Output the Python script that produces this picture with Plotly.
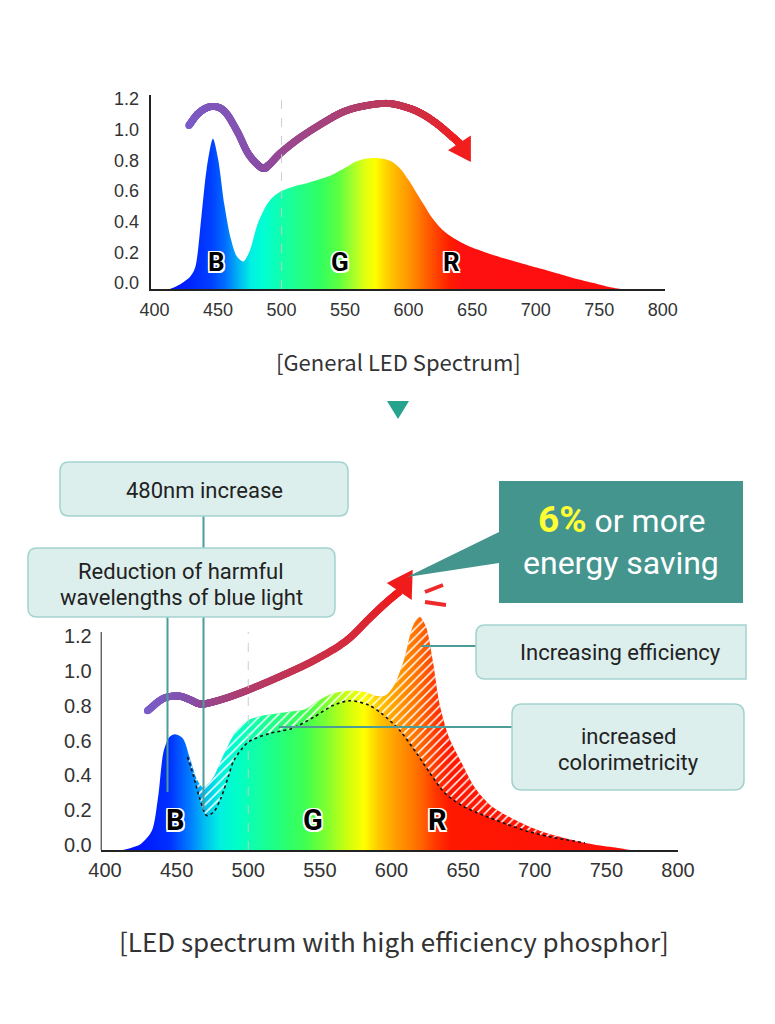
import numpy as np
import plotly.graph_objects as go

# The page body keeps its default 8px margin, so the figure is 16px smaller than the window
# and every reference pixel position is shifted by 8px.
W, H = 759, 1008
OFF = 8

# ---------------- data : general LED spectrum (top) ----------------
gen_nm = [412, 420, 428, 432, 437, 441, 446, 450, 455, 460, 465, 470, 475, 481, 487, 492, 498,
          505, 512, 520, 530, 540, 550, 558, 566, 573, 580, 587, 594, 600, 606, 612, 618, 625,
          632, 640, 650, 660, 675, 690, 705, 720, 735, 750, 760, 767]
gen_val = [0.0, 0.03, 0.08, 0.14, 0.48, 0.78, 0.98, 0.85, 0.55, 0.33, 0.21, 0.18, 0.25, 0.42,
           0.53, 0.59, 0.63, 0.655, 0.675, 0.69, 0.715, 0.745, 0.79, 0.83, 0.85, 0.855, 0.85,
           0.83, 0.78, 0.71, 0.63, 0.55, 0.47, 0.40, 0.35, 0.31, 0.27, 0.24, 0.20, 0.165, 0.13,
           0.095, 0.06, 0.03, 0.01, 0.0]

# arrow over the top chart
top_arrow_nm = [427, 435, 445, 455, 465, 474, 484.5, 490, 499.6, 515, 536, 550, 566, 584, 600, 611, 622, 632, 640]
top_arrow_val = [1.066, 1.15, 1.19, 1.16, 1.03, 0.88, 0.79, 0.81, 0.89, 0.99, 1.10, 1.16, 1.195, 1.21,
                 1.18, 1.14, 1.08, 1.01, 0.952]
top_head_nm = [631, 649, 649]
top_head_val = [0.904, 1.001, 0.828]

# ---------------- data : high efficiency phosphor spectrum (bottom) ----------------
he_nm = [412.5, 425, 432.7, 437, 441, 445, 449, 454.5, 459, 464, 468.5, 475, 484, 492, 500, 509,
         524.5, 540, 549, 559, 571, 580.6, 590, 596, 602, 608.6, 614.8, 619.5, 624, 628.8, 633.5,
         640, 649, 658, 668, 680, 696, 711, 727, 742, 758, 767]
he_val = [0.0, 0.035, 0.11, 0.30, 0.57, 0.65, 0.665, 0.64, 0.535, 0.41, 0.36, 0.41, 0.57, 0.69,
          0.746, 0.77, 0.79, 0.81, 0.86, 0.90, 0.915, 0.91, 0.885, 0.89, 0.95, 1.09, 1.285, 1.34,
          1.285, 1.09, 0.84, 0.65, 0.50, 0.36, 0.265, 0.20, 0.135, 0.09, 0.056, 0.03, 0.012, 0.0]

# previous (general) spectrum drawn dashed on the bottom chart
old_nm = [457.6, 462, 466, 471, 476, 481, 486, 490, 500, 515, 531, 546, 559, 571, 584, 593, 605.5,
          618, 627, 636.6, 649, 664.6, 680, 696, 711, 727, 735]
old_val = [0.535, 0.42, 0.30, 0.198, 0.22, 0.30, 0.42, 0.515, 0.62, 0.67, 0.70, 0.765, 0.83, 0.858,
           0.833, 0.785, 0.69, 0.55, 0.44, 0.333, 0.256, 0.198, 0.15, 0.105, 0.075, 0.052, 0.04]

bot_arrow_nm = [429.6, 440.5, 451, 459, 466, 473, 487, 503, 524.5, 546, 568, 585, 596, 605.4]
bot_arrow_val = [0.80, 0.87, 0.885, 0.865, 0.84, 0.846, 0.88, 0.93, 1.006, 1.09, 1.20, 1.335, 1.42, 1.485]
bot_head_nm = [596.7, 614.8, 614.1]
bot_head_val = [1.534, 1.61, 1.437]

# ---------------- axes / labels ----------------
x_ticks = [400, 450, 500, 550, 600, 650, 700, 750, 800]
y_ticks = [0.0, 0.2, 0.4, 0.6, 0.8, 1.0, 1.2]
y_ticktext = ["0.0", "0.2", "0.4", "0.6", "0.8", "1.0", "1.2"]
letters = ["B", "G", "R"]
top_letter_nm = [449, 546, 634]
top_letter_val = [0.176, 0.176, 0.176]
bot_letter_nm = [449, 545, 632]
bot_letter_val = [0.172, 0.172, 0.172]

caption_top = "[General LED Spectrum]"
caption_bot = "[LED spectrum with high efficiency phosphor]"

# ---------------- styling ----------------
TICK_FONT = "Liberation Sans"
BOX_FONT = "Roboto"
CAP_FONT = "Noto Sans CJK KR"
BOX_FILL = "#dcefed"
BOX_LINE = "#a3d3cf"
CONN = "#4c9c98"
TEAL = "#45958f"


def px(x):
    return (x - OFF) / W


def py(y):
    return 1 - (y - OFF) / H


def spec_scale(stops):
    return [[(nm - 400) / 400.0, c] for nm, c in stops]


top_cs = spec_scale([(400, "#0000ff"), (420, "#0018ff"), (445, "#0040ff"), (456, "#0070ff"),
                     (466, "#00b4f4"), (476, "#00f0e4"), (486, "#00ffd2"), (500, "#12ffaa"),
                     (515, "#22ff86"), (530, "#30ff62"), (545, "#5cff40"), (556, "#a2ff2c"),
                     (566, "#e2ff10"), (574, "#ffff00"), (582, "#ffd400"), (592, "#ffb000"),
                     (602, "#ff9000"), (612, "#ff6800"), (622, "#ff4200"), (632, "#ff1e00"),
                     (642, "#ff1010"), (800, "#ff0d0d")])
bot_cs = spec_scale([(400, "#0000ff"), (420, "#0010ff"), (445, "#0030ff"), (460, "#0080ff"),
                     (470, "#00c0f0"), (480, "#00f0e0"), (492, "#00ffc8"), (505, "#10ffa8"),
                     (520, "#20ff80"), (540, "#40ff50"), (555, "#80ff30"), (568, "#c8ff10"),
                     (581, "#ffff00"), (592, "#ffc400"), (604, "#ff9a00"), (614, "#ff7c00"),
                     (622, "#ff6000"), (631, "#ff3600"), (641, "#ff1800"), (800, "#ff0d0d")])


def catmull(xs, ys, n=40):
    P = np.column_stack([xs, ys]).astype(float)
    P = np.vstack([P[0] * 2 - P[1], P, P[-1] * 2 - P[-2]])
    out = []
    for i in range(1, len(P) - 2):
        p0, p1, p2, p3 = P[i - 1], P[i], P[i + 1], P[i + 2]
        for t in np.linspace(0, 1, n, endpoint=False):
            t2, t3 = t * t, t * t * t
            out.append(0.5 * ((2 * p1) + (-p0 + p2) * t + (2 * p0 - 5 * p1 + 4 * p2 - p3) * t2
                              + (-p0 + 3 * p1 - 3 * p2 + p3) * t3))
    out.append(P[-2])
    out = np.array(out)
    return out[:, 0], out[:, 1]


fig = go.Figure()

# ---- top chart ----
fig.add_trace(go.Scatter(x=gen_nm, y=gen_val, mode="lines",
                         line=dict(width=0, shape="spline", smoothing=0.8),
                         fill="tozeroy",
                         fillgradient=dict(type="horizontal", colorscale=top_cs, start=400, stop=800),
                         xaxis="x", yaxis="y", hoverinfo="skip", showlegend=False))

ax, ay = catmull(top_arrow_nm, top_arrow_val)
fig.add_trace(go.Scatter(x=ax, y=ay, mode="markers",
                         marker=dict(size=7, color=np.linspace(0, 1, len(ax)),
                                     colorscale=[[0, "#7a5dc8"], [0.35, "#8b4ea6"], [0.7, "#b83c62"], [1, "#f21e1e"]],
                                     line=dict(width=0)),
                         xaxis="x", yaxis="y", hoverinfo="skip", showlegend=False))
fig.add_trace(go.Scatter(x=top_head_nm, y=top_head_val, mode="lines", fill="toself",
                         fillcolor="#f21e1e", line=dict(width=0, color="#f21e1e"),
                         xaxis="x", yaxis="y", hoverinfo="skip", showlegend=False))

# ---- bottom chart ----
fig.add_trace(go.Scatter(x=he_nm, y=he_val, mode="lines",
                         line=dict(width=0, shape="spline", smoothing=0.8),
                         fill="tozeroy",
                         fillgradient=dict(type="horizontal", colorscale=bot_cs, start=400, stop=800),
                         xaxis="x2", yaxis="y2", hoverinfo="skip", showlegend=False))

he_nm_a = np.array(he_nm)
he_val_a = np.array(he_val)
sel = (he_nm_a >= old_nm[0]) & (he_nm_a <= old_nm[-1])
hatch_x = list(he_nm_a[sel]) + [old_nm[-1]] + old_nm[::-1]
hatch_y = list(he_val_a[sel]) + [old_val[-1]] + old_val[::-1]
fig.add_trace(go.Scatter(x=hatch_x, y=hatch_y, mode="lines", fill="toself",
                         fillcolor="rgba(0,0,0,0)",
                         fillpattern=dict(shape="/", fgcolor="white", bgcolor="rgba(0,0,0,0)",
                                          size=6, solidity=0.25, fillmode="replace"),
                         line=dict(width=0, shape="spline", smoothing=0.8),
                         xaxis="x2", yaxis="y2", hoverinfo="skip", showlegend=False))
fig.add_trace(go.Scatter(x=old_nm, y=old_val, mode="lines",
                         line=dict(width=1.6, color="#111111", dash="dot", shape="spline", smoothing=0.8),
                         xaxis="x2", yaxis="y2", hoverinfo="skip", showlegend=False))

bx, by = catmull(bot_arrow_nm, bot_arrow_val)
fig.add_trace(go.Scatter(x=bx, y=by, mode="markers",
                         marker=dict(size=7, color=np.linspace(0, 1, len(bx)),
                                     colorscale=[[0, "#7a5dc8"], [0.3, "#8a4ea2"], [0.65, "#c43450"], [1, "#f01c1c"]],
                                     line=dict(width=0)),
                         xaxis="x2", yaxis="y2", hoverinfo="skip", showlegend=False, cliponaxis=False))
fig.add_trace(go.Scatter(x=bot_head_nm, y=bot_head_val, mode="lines", fill="toself",
                         fillcolor="#f01c1c", line=dict(width=0, color="#f01c1c"),
                         xaxis="x2", yaxis="y2", hoverinfo="skip", showlegend=False))

# ---- axes ----
TOP_Y_MAX = 1.265
BOT_Y_MAX = 1.66
common_x = dict(tickvals=x_ticks, showgrid=False, zeroline=False, ticks="", automargin=False,
                showline=True, linecolor="#222", linewidth=2, fixedrange=True)
common_y = dict(tickvals=y_ticks, ticktext=y_ticktext, showgrid=False, zeroline=False, ticks="",
                automargin=False, fixedrange=True)

fig.update_layout(
    width=W, height=H, margin=dict(l=0, r=0, t=0, b=0, pad=0, autoexpand=False),
    paper_bgcolor="white", plot_bgcolor="rgba(0,0,0,0)", showlegend=False,
    xaxis=dict(domain=[px(150.7), px(665)], range=[397, 801.8], anchor="y",
               tickfont=dict(family=TICK_FONT, size=18, color="#333"), ticklabelstandoff=3, **common_x),
    yaxis=dict(domain=[py(289), py(95)], range=[0, TOP_Y_MAX], anchor="x",
               showline=True, linecolor="#222", linewidth=2,
               tickfont=dict(family=TICK_FONT, size=18, color="#333"),
               ticklabelshift=-6, ticklabelstandoff=6, **common_y),
    xaxis2=dict(domain=[px(100.7), px(678)], range=[397, 800], anchor="y2",
                tickfont=dict(family=TICK_FONT, size=20, color="#333"), ticklabelstandoff=1, **common_x),
    yaxis2=dict(domain=[py(850), py(850 - BOT_Y_MAX * 174)], range=[0, BOT_Y_MAX], anchor="x2",
                showline=False,
                tickfont=dict(family=TICK_FONT, size=20, color="#333"),
                ticklabelshift=-5, ticklabelstandoff=8, **common_y),
)

shapes = []
# dashed reference lines at 500 nm
shapes.append(dict(type="line", xref="x", yref="y", x0=500, x1=500, y0=0, y1=TOP_Y_MAX,
                   line=dict(color="rgba(200,200,200,0.9)", width=1, dash="dash"), layer="above"))
shapes.append(dict(type="line", xref="x2", yref="y2", x0=500, x1=500, y0=0, y1=1.253,
                   line=dict(color="rgba(200,200,200,0.9)", width=1, dash="dash"), layer="above"))
# bottom y axis line (only up to the last tick area)
shapes.append(dict(type="line", xref="x2", yref="y2", x0=397, x1=397, y0=0, y1=1.253,
                   line=dict(color="#222", width=2), layer="above"))


def rrect(x0, y0, x1, y1, r, round_right=True):
    rr = r if round_right else 0
    pts = (f"M{px(x0 + r)},{py(y0)} L{px(x1 - rr)},{py(y0)} "
           f"Q{px(x1)},{py(y0)} {px(x1)},{py(y0 + rr)} L{px(x1)},{py(y1 - rr)} "
           f"Q{px(x1)},{py(y1)} {px(x1 - rr)},{py(y1)} L{px(x0 + r)},{py(y1)} "
           f"Q{px(x0)},{py(y1)} {px(x0)},{py(y1 - r)} L{px(x0)},{py(y0 + r)} "
           f"Q{px(x0)},{py(y0)} {px(x0 + r)},{py(y0)} Z")
    return dict(type="path", xref="paper", yref="paper", path=pts,
                fillcolor=BOX_FILL, line=dict(color=BOX_LINE, width=1.5), layer="above")


def pline(x0, y0, x1, y1, color=CONN, width=2):
    return dict(type="line", xref="paper", yref="paper", x0=px(x0), y0=py(y0), x1=px(x1), y1=py(y1),
                line=dict(color=color, width=width), layer="above")


# connector lines (drawn before boxes)
shapes.append(pline(203.5, 516, 203.5, 810))
shapes.append(pline(167.5, 617, 167.5, 792))
shapes.append(pline(421, 646, 476, 646))
shapes.append(pline(279, 727, 512, 727))
# boxes
shapes.append(rrect(60, 462, 348, 516, 9))
shapes.append(rrect(28, 548, 335, 617, 9))
shapes.append(rrect(476, 625, 746, 679, 9, round_right=False))
shapes.append(rrect(512, 704, 744, 790, 10))
# speech bubble
bubble = (f"M{px(499)},{py(481)} L{px(743)},{py(481)} L{px(743)},{py(603)} L{px(499)},{py(603)} "
          f"L{px(499)},{py(563)} L{px(407)},{py(577)} L{px(499)},{py(532)} Z")
shapes.append(dict(type="path", xref="paper", yref="paper", path=bubble, fillcolor=TEAL,
                   line=dict(width=0), layer="above"))
# red speed marks
shapes.append(pline(425, 592, 443, 585, color="#ee2a2a", width=4))
shapes.append(pline(425, 602, 446, 605, color="#ee2a2a", width=4))
# down triangle
tri = f"M{px(387)},{py(401)} L{px(409)},{py(401)} L{px(398)},{py(419)} Z"
shapes.append(dict(type="path", xref="paper", yref="paper", path=tri, fillcolor="#26a38d",
                   line=dict(width=0), layer="above"))
fig.update_layout(shapes=shapes)

ann = []
OUTLINE = ("white 1.5px 0 0, white -1.5px 0 0, white 0 1.5px 0, white 0 -1.5px 0, "
           "white 1.5px 1.5px 0, white -1.5px -1.5px 0, white 1.5px -1.5px 0, white -1.5px 1.5px 0")
for t, xv, yv in zip(letters, top_letter_nm, top_letter_val):
    ann.append(dict(text=f"<b>{t}</b>", x=xv, y=yv, xref="x", yref="y", showarrow=False,
                    font=dict(family="Roboto", size=26, color="black", shadow=OUTLINE)))
for t, xv, yv in zip(letters, bot_letter_nm, bot_letter_val):
    ann.append(dict(text=f"<b>{t}</b>", x=xv, y=yv, xref="x2", yref="y2", showarrow=False,
                    font=dict(family="Roboto", size=29, color="black", shadow=OUTLINE)))


def ptext(text, x, y, size, color="#222", family=BOX_FONT, **kw):
    return dict(text=text, x=px(x), y=py(y), xref="paper", yref="paper", showarrow=False,
                xanchor="center", yanchor="middle", font=dict(family=family, size=size, color=color), **kw)


ann.append(ptext(caption_top, 398, 361, 22, color="#333", family=CAP_FONT))
ann.append(ptext(caption_bot, 394, 940, 26, color="#333", family=CAP_FONT))
ann.append(ptext("480nm increase", 204, 490, 22))
ann.append(ptext("Reduction of harmful", 181, 571, 22))
ann.append(ptext("wavelengths of blue light", 181, 597, 22))
ann.append(ptext("Increasing efficiency", 620, 652, 22))
ann.append(ptext("increased", 628, 736, 22))
ann.append(ptext("colorimetricity", 628, 762, 22))
ann.append(ptext('<span style="color:#ffff33;font-size:37px"><b>6%</b></span> or more', 621, 519, 32,
                 color="white", family="Roboto"))
ann.append(ptext("energy saving", 621, 563, 32, color="white", family="Roboto"))
fig.update_layout(annotations=ann)

fig.write_html("out.html")
